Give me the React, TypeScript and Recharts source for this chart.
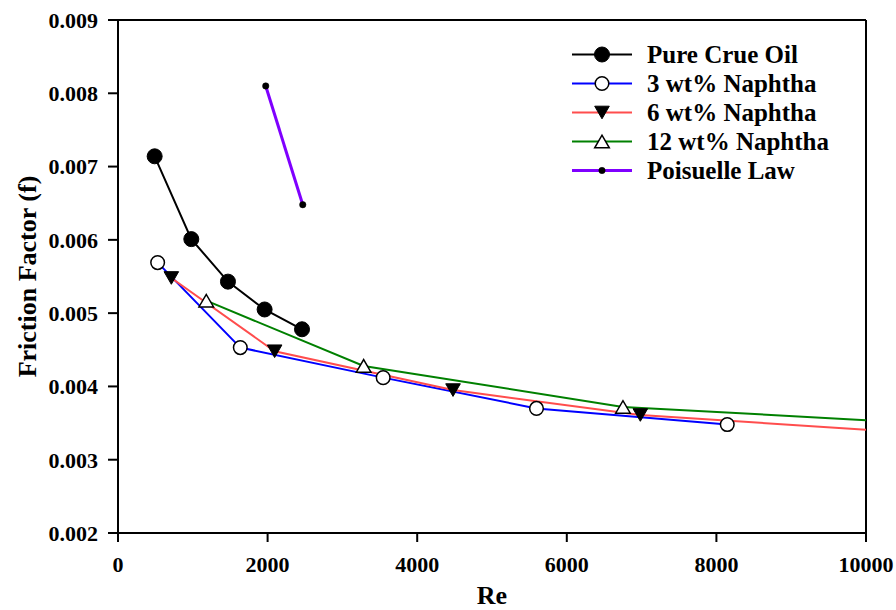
import React from 'react';
import { LineChart, Line, XAxis, YAxis, ReferenceLine, Legend } from 'recharts';

// ---- data ----
const pureX = [490, 980, 1470, 1960, 2460];
const pureY = [0.00714, 0.00601, 0.00543, 0.00505, 0.00478];

const naph3X = [530, 1635, 3545, 5595, 8145];
const naph3Y = [0.00569, 0.00453, 0.00412, 0.0037, 0.00348];

const naph6X = [713, 2094, 4479, 6983, 10000];
const naph6Y = [0.00548, 0.00448, 0.00395, 0.00361, 0.00341];

const naph12X = [1180, 3284, 6751, 10000];
const naph12Y = [0.00517, 0.00428, 0.00372, 0.00354];

const poisX = [1975, 2470];
const poisY = [0.0081, 0.00648];

const seriesNames = ['Pure Crue Oil', '3 wt% Naphtha', '6 wt% Naphtha', '12 wt% Naphtha', 'Poisuelle Law'];
const seriesColors = ['#000000', '#0000ff', '#ff4d4d', '#008000', '#7f00ff'];

const xTicks = [0, 2000, 4000, 6000, 8000, 10000];
const yTicks = [0.002, 0.003, 0.004, 0.005, 0.006, 0.007, 0.008, 0.009];

const xTitle = 'Re';
const yTitle = 'Friction Factor (f)';

const zip = (xs: number[], ys: number[]) => xs.map((x, i) => ({ x, y: ys[i] }));
const pureData = zip(pureX, pureY);
const naph3Data = zip(naph3X, naph3Y);
const naph6Data = zip(naph6X, naph6Y);
const naph12Data = zip(naph12X, naph12Y);
const poisData = zip(poisX, poisY);

const FONT = '"Liberation Serif", "Times New Roman", Times, serif';

// ---- marker shapes ----
type MK = 'filled' | 'open' | 'down' | 'up' | 'small';
const markerKinds: MK[] = ['filled', 'open', 'down', 'up', 'small'];

function Marker({ kind, cx, cy }: { kind: MK; cx: number; cy: number }) {
  if (kind === 'filled') return <circle cx={cx} cy={cy} r={7.5} fill="#000" stroke="#000" strokeWidth={1} />;
  if (kind === 'open') return <circle cx={cx} cy={cy} r={6.8} fill="#fff" stroke="#000" strokeWidth={1.5} />;
  if (kind === 'small') return <circle cx={cx} cy={cy} r={3.2} fill="#000" stroke="#000" strokeWidth={0.5} />;
  const w = 7.3;
  const h = 6.3;
  if (kind === 'down') {
    return (
      <polygon
        points={`${cx - w},${cy - h} ${cx + w},${cy - h} ${cx},${cy + h}`}
        fill="#000"
        stroke="#000"
        strokeWidth={1}
      />
    );
  }
  return (
    <polygon
      points={`${cx - w},${cy + h} ${cx + w},${cy + h} ${cx},${cy - h}`}
      fill="#fff"
      stroke="#000"
      strokeWidth={1.5}
    />
  );
}

const makeDot = (kind: MK) => (p: any) => {
  const key = `${kind}-${p.index}`;
  if (p.cx == null || p.cy == null || (p.payload && p.payload.x >= 10000)) return <g key={key} />;
  return (
    <g key={key}>
      <Marker kind={kind} cx={p.cx} cy={p.cy} />
    </g>
  );
};

const renderLegend = () => (
  <div style={{ fontFamily: FONT, fontWeight: 'bold', fontSize: 25, color: '#000' }}>
    {seriesNames.map((name, i) => (
      <div key={name} style={{ display: 'flex', alignItems: 'center', height: 29, lineHeight: '29px' }}>
        <svg width={60} height={29} style={{ display: 'block', flex: 'none' }}>
          <line x1={0} y1={14.5} x2={60} y2={14.5} stroke={seriesColors[i]} strokeWidth={i === 4 ? 3 : 2} />
          <Marker kind={markerKinds[i]} cx={30} cy={14.5} />
        </svg>
        <span style={{ marginLeft: 15, whiteSpace: 'nowrap' }}>{name}</span>
      </div>
    ))}
  </div>
);

const XTitle = (props: any) => {
  const vb = props.viewBox || { x: 118, y: 533, width: 748, height: 77 };
  return (
    <text
      x={vb.x + vb.width / 2}
      y={vb.y + 71}
      textAnchor="middle"
      fontFamily={FONT}
      fontWeight="bold"
      fontSize={26}
      fill="#000"
    >
      {xTitle}
    </text>
  );
};

const YTitle = (props: any) => {
  const vb = props.viewBox || { x: 0, y: 20, width: 118, height: 513 };
  const cx = 36;
  const cy = vb.y + vb.height / 2;
  return (
    <text
      x={cx}
      y={cy}
      transform={`rotate(-90 ${cx} ${cy})`}
      textAnchor="middle"
      fontFamily={FONT}
      fontWeight="bold"
      fontSize={26}
      fill="#000"
    >
      {yTitle}
    </text>
  );
};

const tickStyle = { fill: '#000', fontSize: 22, fontWeight: 'bold', fontFamily: FONT };
const axisStroke = { stroke: '#000', strokeWidth: 2 };

export default function App() {
  return (
    <div style={{ position: 'absolute', left: 0, top: 0, width: 896, height: 610, background: '#fff' }}>
      <LineChart width={896} height={610} margin={{ top: 20, right: 30, bottom: 0, left: 0 }}>
        <XAxis
          type="number"
          dataKey="x"
          domain={[0, 10000]}
          ticks={xTicks}
          allowDataOverflow
          height={77}
          axisLine={axisStroke}
          tickLine={axisStroke}
          tickSize={9}
          tickMargin={14}
          tick={tickStyle}
          label={{ content: (p: any) => <XTitle {...p} /> }}
        />
        <YAxis
          type="number"
          dataKey="y"
          domain={[0.002, 0.009]}
          ticks={yTicks}
          allowDataOverflow
          width={118}
          axisLine={axisStroke}
          tickLine={axisStroke}
          tickSize={10}
          tickMargin={10}
          tick={tickStyle}
          tickFormatter={(v: number) => v.toFixed(3)}
          label={{ content: (p: any) => <YTitle {...p} /> }}
        />
        <ReferenceLine y={0.009} stroke="#000" strokeWidth={2} />
        <ReferenceLine x={10000} stroke="#000" strokeWidth={2} />

        {/* lines */}
        <Line data={pureData} dataKey="y" type="linear" stroke={seriesColors[0]} strokeWidth={2} dot={false} activeDot={false} isAnimationActive={false} legendType="none" />
        <Line data={naph3Data} dataKey="y" type="linear" stroke={seriesColors[1]} strokeWidth={2} dot={false} activeDot={false} isAnimationActive={false} legendType="none" />
        <Line data={naph6Data} dataKey="y" type="linear" stroke={seriesColors[2]} strokeWidth={2} dot={false} activeDot={false} isAnimationActive={false} legendType="none" />
        <Line data={naph12Data} dataKey="y" type="linear" stroke={seriesColors[3]} strokeWidth={2} dot={false} activeDot={false} isAnimationActive={false} legendType="none" />
        <Line data={poisData} dataKey="y" type="linear" stroke={seriesColors[4]} strokeWidth={3} dot={false} activeDot={false} isAnimationActive={false} legendType="none" />

        {/* markers drawn on top of all lines */}
        <Line data={pureData} dataKey="y" type="linear" stroke="none" dot={makeDot('filled')} activeDot={false} isAnimationActive={false} legendType="none" />
        <Line data={naph3Data} dataKey="y" type="linear" stroke="none" dot={makeDot('open')} activeDot={false} isAnimationActive={false} legendType="none" />
        <Line data={naph6Data} dataKey="y" type="linear" stroke="none" dot={makeDot('down')} activeDot={false} isAnimationActive={false} legendType="none" />
        <Line data={naph12Data} dataKey="y" type="linear" stroke="none" dot={makeDot('up')} activeDot={false} isAnimationActive={false} legendType="none" />
        <Line data={poisData} dataKey="y" type="linear" stroke="none" dot={makeDot('small')} activeDot={false} isAnimationActive={false} legendType="none" />

        <Legend
          content={renderLegend}
          layout="horizontal"
          align="center"
          verticalAlign="middle"
          wrapperStyle={{ left: 572, top: 39.5, width: 300, height: 150 }}
        />
      </LineChart>
    </div>
  );
}
